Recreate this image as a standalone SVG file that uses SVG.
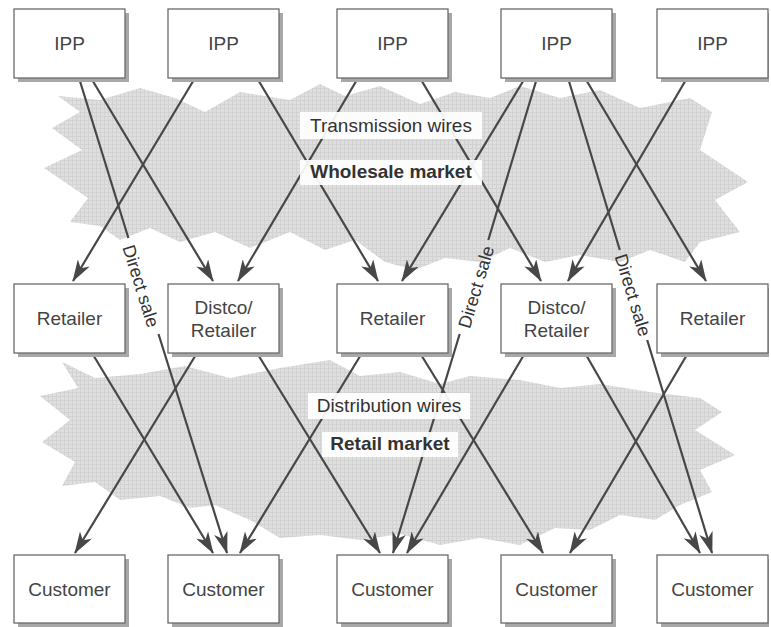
<svg xmlns="http://www.w3.org/2000/svg" width="771" height="627" viewBox="0 0 771 627">
<defs>
<pattern id="hatch" width="4" height="4" patternUnits="userSpaceOnUse">
<rect width="4" height="4" fill="#dfdfdf"/>
<path d="M0,0.5 H4 M0.5,0 V4" stroke="#d2d2d2" stroke-width="1"/>
</pattern>
<marker id="arr" markerUnits="userSpaceOnUse" markerWidth="22" markerHeight="14" viewBox="0 0 22 14" refX="21" refY="7" orient="auto">
<path d="M0,0 L22,7 L0,14 L6,7 Z" fill="#474747"/>
</marker>
</defs>
<style>
.box{fill:#fff;stroke:#6a6a6a;stroke-width:1.3}
.sh{fill:#a8a8a8}
.t{font-family:"Liberation Sans",Arial,sans-serif;font-size:19px;fill:#444;text-anchor:middle}
.lb{font-family:"Liberation Sans",Arial,sans-serif;font-size:19px;fill:#333;text-anchor:middle}
.b{font-weight:bold}
.ds{font-family:"Liberation Sans",Arial,sans-serif;font-size:18px;fill:#333;text-anchor:middle}
.c{fill:none;stroke:#474747;stroke-width:2.2;marker-end:url(#arr)}
.bg{fill:#fff;opacity:0.92}
</style>
<rect width="771" height="627" fill="#fff"/>
<g id="clouds">
<path fill="url(#hatch)" d="M58,96 L100,100 L140,88 L175,98 L205,112 L240,92 L290,100 L320,84 L345,96 L380,86 L420,104 L455,92 L490,98 L520,86 L560,98 L600,90 L640,108 L690,98 L712,112 L700,150 L748,182 L715,200 L740,232 L700,242 L685,262 L650,250 L620,262 L580,255 L545,262 L510,248 L480,262 L445,258 L415,270 L385,262 L355,240 L325,250 L290,232 L250,248 L215,232 L180,242 L150,228 L120,240 L100,226 L70,222 L88,198 L44,168 L82,150 L52,128 L80,112 Z"/>
<path fill="url(#hatch)" d="M62,362 L95,378 L140,374 L185,366 L230,378 L280,368 L330,360 L360,376 L400,372 L440,384 L470,376 L520,380 L560,388 L600,384 L650,392 L700,398 L722,412 L695,430 L735,455 L700,470 L712,492 L680,505 L655,520 L620,515 L590,530 L555,528 L520,545 L480,538 L440,545 L400,534 L360,540 L320,535 L280,538 L250,520 L215,505 L190,508 L160,496 L120,500 L95,482 L62,486 L75,462 L42,442 L70,420 L40,396 L78,388 Z"/>
</g>
<g id="connectors">
<path class="c" d="M79,78 L128.4,238 M158.5,334 L227,553"/>
<path class="c" d="M91,78 L213,281"/>
<path class="c" d="M195,78 L73,281"/>
<path class="c" d="M257,78 L378,281"/>
<path class="c" d="M358,78 L238,281"/>
<path class="c" d="M420,78 L541,281"/>
<path class="c" d="M525,78 L402,281"/>
<path class="c" d="M537,78 L488.3,240 M459.7,334 L393,553"/>
<path class="c" d="M568,78 L619.8,250 M647.2,340 L712,553"/>
<path class="c" d="M585,78 L706,281"/>
<path class="c" d="M687,78 L568,281"/>
<path class="c" d="M92,353 L213,553"/>
<path class="c" d="M197,353 L75,553"/>
<path class="c" d="M257,353 L380,553"/>
<path class="c" d="M362,353 L240,553"/>
<path class="c" d="M420,353 L543,553"/>
<path class="c" d="M525,353 L407,553"/>
<path class="c" d="M585,353 L700,553"/>
<path class="c" d="M688,353 L570,553"/>
</g>
<g id="labels">
<rect class="bg" x="300" y="112" width="182" height="27"/>
<text class="lb" x="391" y="132">Transmission wires</text>
<rect class="bg" x="300" y="160" width="182" height="25"/>
<text class="lb b" x="391" y="178">Wholesale market</text>
<rect class="bg" x="308" y="393" width="162" height="26"/>
<text class="lb" x="389" y="412">Distribution wires</text>
<rect class="bg" x="322" y="432" width="136" height="25"/>
<text class="lb b" x="390" y="450">Retail market</text>
<text class="ds" transform="translate(141,286) rotate(72.6)" dy="0.35em">Direct sale</text>
<text class="ds" transform="translate(476,287) rotate(-73.1)" dy="0.35em">Direct sale</text>
<text class="ds" transform="translate(633,295) rotate(73.1)" dy="0.35em">Direct sale</text>
</g>
<g id="ipp1"><rect class="sh" x="18" y="13" width="111" height="69"/><rect class="box" x="14" y="9" width="111" height="69"/><text class="t" x="69.5" y="50">IPP</text></g>
<g id="ipp2"><rect class="sh" x="172" y="13" width="111" height="69"/><rect class="box" x="168" y="9" width="111" height="69"/><text class="t" x="223.5" y="50">IPP</text></g>
<g id="ipp3"><rect class="sh" x="341" y="13" width="111" height="69"/><rect class="box" x="337" y="9" width="111" height="69"/><text class="t" x="392.5" y="50">IPP</text></g>
<g id="ipp4"><rect class="sh" x="505" y="13" width="111" height="69"/><rect class="box" x="501" y="9" width="111" height="69"/><text class="t" x="556.5" y="50">IPP</text></g>
<g id="ipp5"><rect class="sh" x="661" y="13" width="108" height="69"/><rect class="box" x="657" y="9" width="111" height="69"/><text class="t" x="712.5" y="50">IPP</text></g>
<g id="retailer1"><rect class="sh" x="18" y="288" width="111" height="69"/><rect class="box" x="14" y="284" width="111" height="69"/><text class="t" x="69.5" y="325">Retailer</text></g>
<g id="distco2"><rect class="sh" x="172" y="288" width="111" height="69"/><rect class="box" x="168" y="284" width="111" height="69"/><text class="t" x="223.5" y="314">Distco/</text><text class="t" x="223.5" y="337">Retailer</text></g>
<g id="retailer3"><rect class="sh" x="341" y="288" width="111" height="69"/><rect class="box" x="337" y="284" width="111" height="69"/><text class="t" x="392.5" y="325">Retailer</text></g>
<g id="distco4"><rect class="sh" x="505" y="288" width="111" height="69"/><rect class="box" x="501" y="284" width="111" height="69"/><text class="t" x="556.5" y="314">Distco/</text><text class="t" x="556.5" y="337">Retailer</text></g>
<g id="retailer5"><rect class="sh" x="661" y="288" width="108" height="69"/><rect class="box" x="657" y="284" width="111" height="69"/><text class="t" x="712.5" y="325">Retailer</text></g>
<g id="customer1"><rect class="sh" x="18" y="559" width="111" height="68"/><rect class="box" x="14" y="555" width="111" height="68"/><text class="t" x="69.5" y="596">Customer</text></g>
<g id="customer2"><rect class="sh" x="172" y="559" width="111" height="68"/><rect class="box" x="168" y="555" width="111" height="68"/><text class="t" x="223.5" y="596">Customer</text></g>
<g id="customer3"><rect class="sh" x="341" y="559" width="111" height="68"/><rect class="box" x="337" y="555" width="111" height="68"/><text class="t" x="392.5" y="596">Customer</text></g>
<g id="customer4"><rect class="sh" x="505" y="559" width="111" height="68"/><rect class="box" x="501" y="555" width="111" height="68"/><text class="t" x="556.5" y="596">Customer</text></g>
<g id="customer5"><rect class="sh" x="661" y="559" width="108" height="68"/><rect class="box" x="657" y="555" width="111" height="68"/><text class="t" x="712.5" y="596">Customer</text></g>
</svg>
